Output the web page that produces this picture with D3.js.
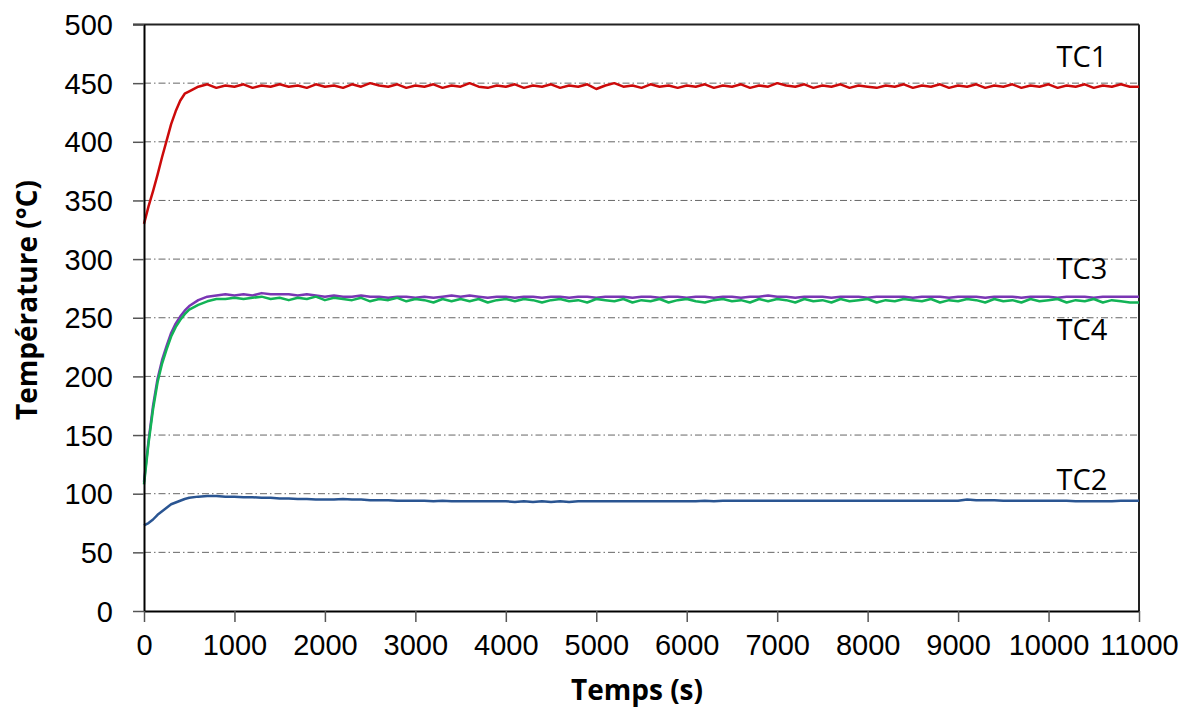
<!DOCTYPE html>
<html>
<head>
<meta charset="utf-8">
<script src="https://cdn.jsdelivr.net/npm/d3@7"></script>
<style>
  body { margin: 0; background: #fff; }
  svg { font-family: "Open Sans", "DejaVu Sans", sans-serif; }
  .axis text { font-size: 29px; fill: #000; }
  .axis path { stroke: #000; stroke-width: 2; }
  .axis line { stroke: #555; stroke-width: 1.5; }
  .grid line { stroke: #666; stroke-width: 1; stroke-dasharray: 7,3,1.5,3; }
  .title { font-size: 28px; font-weight: bold; }
  .lbl { font-size: 29px; }
</style>
</head>
<body>
<div id="chart"></div>
<script>
(function() {

// sample times (s)
var times = [0,50,100,150,200,250,300,350,400,450,500,
  600,700,800,900,1000,1100,1200,1300,1400,1500,
  1600,1700,1800,1900,2000,2100,2200,2300,2400,2500,
  2600,2700,2800,2900,3000,3100,3200,3300,3400,3500,
  3600,3700,3800,3900,4000,4100,4200,4300,4400,4500,
  4600,4700,4800,4900,5000,5100,5200,5300,5400,5500,
  5600,5700,5800,5900,6000,6100,6200,6300,6400,6500,
  6600,6700,6800,6900,7000,7100,7200,7300,7400,7500,
  7600,7700,7800,7900,8000,8100,8200,8300,8400,8500,
  8600,8700,8800,8900,9000,9100,9200,9300,9400,9500,
  9600,9700,9800,9900,10000,10100,10200,10300,10400,10500,
  10600,10700,10800,10900,11000];

var tc1 = [330,345,358,372,387,401,415,426,435,441,443,
  447,449,446,448,447,449,446,448,447,449,
  447,448,446,449,447,448,446,449,447,450,
  448,447,449,446,448,447,449,446,448,447,
  450,447,446,448,447,449,446,448,447,449,
  446,448,447,449,445,448,450,447,448,446,
  449,447,448,446,448,447,449,446,448,447,
  449,446,448,447,450,448,447,449,446,448,
  447,449,446,448,447,446,448,447,449,446,
  448,447,449,446,448,447,449,446,448,447,
  449,446,448,447,449,446,448,447,449,446,
  448,447,449,447,447];

var tc2 = [73,75,78,82,85,88,91,92.5,94,95.5,96.5,
  97.5,98,98,97.5,97.5,97,97,96.5,96.5,96,
  96,95.5,95.5,95,95,95,95.5,95,95,94.5,
  94.5,94.5,94,94,94,94,93.5,94,93.5,93.5,
  93.5,93.5,93.5,93.5,93.5,93,93.5,93,93.5,93,
  93.5,93,93.5,93.5,93.5,93.5,93.5,93.5,93.5,93.5,
  93.5,93.5,93.5,93.5,93.5,93.5,94,93.5,94,94,
  94,94,94,94,94,94,94,94,94,94,
  94,94,94,94,94,94,94,94,94,94,
  94,94,94,94,94,95,94.5,94.5,94.5,94,
  94,94,94,94,94,94,94,93.5,93.5,93.5,
  93.5,93.5,94,94,94];

var tc3 = [110,145,175,198,214,226,237,245,251,256,260,
  265,268,269,270,269,270,269,271,270,270,
  270,269,270,269,268,269,268,268,269,268,
  268,267,268,268,267,268,267,268,269,268,
  269,268,267,268,268,267,268,268,267,268,
  268,267,268,268,267,268,268,268,267,268,
  268,267,268,268,267,268,268,267,268,268,
  267,268,268,269,268,268,267,268,268,268,
  267,268,268,268,267,268,268,268,268,267,
  268,268,268,267,268,268,268,267,268,268,
  268,267,268,268,268,267,268,268,268,267,
  268,268,268,268,268];

var tc4 = [108,143,172,195,211,223,234,242,248,253,257,
  261,264,266,266,267,266,267,268,266,267,
  265,267,266,268,265,267,266,265,267,264,
  266,265,267,264,266,265,263,266,264,266,
  264,266,263,265,266,264,266,265,263,265,
  266,264,265,263,266,265,264,266,263,265,
  264,266,263,265,266,264,263,265,266,264,
  265,263,266,264,266,265,263,266,264,265,
  263,266,264,265,266,263,265,264,266,265,
  264,266,263,265,264,266,265,263,266,264,
  265,263,266,264,265,266,263,265,264,266,
  263,265,264,263,263];

var seriesNames = ["TC1", "TC2", "TC3", "TC4"];
var seriesColors = ["#cc0a0a", "#2a5592", "#7a36b4", "#12b356"];
// label anchor in data units (time, temperature)
var labelPos = [[10370, 464], [10370, 103], [10370, 283], [10370, 231]];

var xTicks = [0,1000,2000,3000,4000,5000,6000,7000,8000,9000,10000,11000];
var yTicks = [0,50,100,150,200,250,300,350,400,450,500];

var margin = {top: 24.5, right: 50, bottom: 97, left: 144},
    width = 1189 - margin.left - margin.right,
    height = 708 - margin.top - margin.bottom;

var x = d3.scaleLinear().domain([0, 11000]).range([0, width]);
var y = d3.scaleLinear().domain([0, 500]).range([height, 0]);

var svg = d3.select("#chart").append("svg")
    .attr("width", 1189)
    .attr("height", 708)
  .append("g")
    .attr("transform", "translate(" + margin.left + "," + margin.top + ")");

// gridlines
svg.append("g")
    .attr("class", "grid")
  .selectAll("line")
    .data(yTicks.filter(function(d) { return d > 0 && d < 500; }))
  .enter().append("line")
    .attr("x1", 0)
    .attr("x2", width)
    .attr("y1", function(d) { return y(d); })
    .attr("y2", function(d) { return y(d); });

// frame (top + right)
svg.append("line")
    .attr("x1", -11).attr("x2", width).attr("y1", 0).attr("y2", 0)
    .style("stroke", "#222").style("stroke-width", 2);
svg.append("line")
    .attr("x1", width).attr("x2", width).attr("y1", 0).attr("y2", height)
    .style("stroke", "#222").style("stroke-width", 2);

var line = d3.line()
    .x(function(d) { return x(d[0]); })
    .y(function(d) { return y(d[1]); });

var all = [tc1, tc2, tc3, tc4];
[2, 3, 1, 0].forEach(function(i) {
  svg.append("path")
      .datum(times.map(function(t, j) { return [t, all[i][j]]; }))
      .attr("d", line)
      .style("fill", "none")
      .style("stroke", seriesColors[i])
      .style("stroke-width", 2.5)
      .style("stroke-linejoin", "round");
});

svg.append("g")
    .attr("class", "axis")
    .call(d3.axisLeft(y).tickValues(yTicks).tickSize(11).tickSizeOuter(0).tickPadding(20));

svg.append("g")
    .attr("class", "axis")
    .attr("transform", "translate(0," + height + ")")
    .call(d3.axisBottom(x).tickValues(xTicks).tickSize(11).tickSizeOuter(0).tickPadding(12)
      .tickFormat(d3.format("d")));

svg.selectAll(".axis .tick text").attr("dy", "0.35em");
svg.selectAll(".axis").filter(function(d, i) { return i == 1; })
  .selectAll(".tick text").attr("dy", "0.71em");

// series labels
svg.selectAll(".lbl")
    .data(seriesNames)
  .enter().append("text")
    .attr("class", "lbl")
    .attr("text-anchor", "middle")
    .attr("x", function(d, i) { return x(labelPos[i][0]); })
    .attr("y", function(d, i) { return y(labelPos[i][1]); })
    .text(function(d) { return d; });

svg.append("text")
    .attr("class", "title")
    .attr("text-anchor", "middle")
    .attr("transform", "translate(" + (37 - margin.left) + "," + (300 - margin.top) + ") rotate(-90)")
    .text("Température (°C)");

svg.append("text")
    .attr("class", "title")
    .attr("text-anchor", "middle")
    .attr("x", 637 - margin.left)
    .attr("y", 700 - margin.top)
    .text("Temps (s)");

})()
</script>
</body>
</html>
